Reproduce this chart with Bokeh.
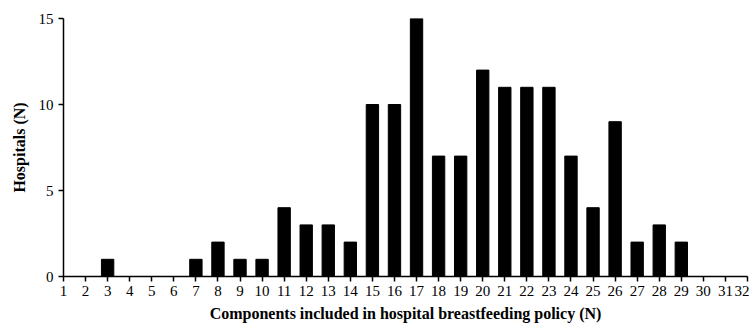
from bokeh.plotting import figure
from bokeh.models import Range1d, FixedTicker, ColumnDataSource
from bokeh.embed import file_html
from bokeh.resources import INLINE

components = list(range(1, 33))
hospitals = [0, 0, 1, 0, 0, 0, 1, 2, 1, 1, 4, 3, 3, 2, 10, 10, 15, 7, 7, 12,
             11, 11, 11, 7, 4, 9, 2, 3, 2, 0, 0, 0]
y_ticks = [0, 5, 10, 15]

src = ColumnDataSource(data=dict(x=components, top=hospitals))

p = figure(width=749, height=324, output_backend="svg", toolbar_location=None,
           x_range=Range1d(1, 32), y_range=Range1d(0, 15),
           min_border_left=63, min_border_right=2, min_border_top=18, min_border_bottom=48)
p.vbar(x="x", top="top", width=0.56, bottom=0, source=src,
       fill_color="black", line_color="black")

p.grid.visible = False
p.outline_line_color = None

font = "Liberation Serif"
p.xaxis.ticker = FixedTicker(ticks=components)
p.yaxis.ticker = FixedTicker(ticks=y_ticks)
for ax in (p.xaxis[0], p.yaxis[0]):
    ax.axis_line_color = "black"
    ax.axis_line_width = 1.5
    ax.major_tick_line_color = "black"
    ax.major_tick_line_width = 1.5
    ax.major_tick_out = 5
    ax.major_tick_in = 0
    ax.minor_tick_line_color = None
    ax.major_label_text_font = font
    ax.major_label_text_font_size = "15px"
    ax.major_label_text_color = "black"
    ax.axis_label_text_font = font
    ax.axis_label_text_font_style = "bold"
    ax.axis_label_text_font_size = "16px"
    ax.axis_label_text_color = "black"

p.xaxis.axis_label = "Components included in hospital breastfeeding policy (N)"
p.yaxis.axis_label = "Hospitals (N)"
p.xaxis.major_label_standoff = 4
p.xaxis.axis_label_standoff = 6
p.yaxis.major_label_standoff = 5
p.yaxis.axis_label_standoff = 8

open("out.html", "w").write(file_html(p, INLINE))
